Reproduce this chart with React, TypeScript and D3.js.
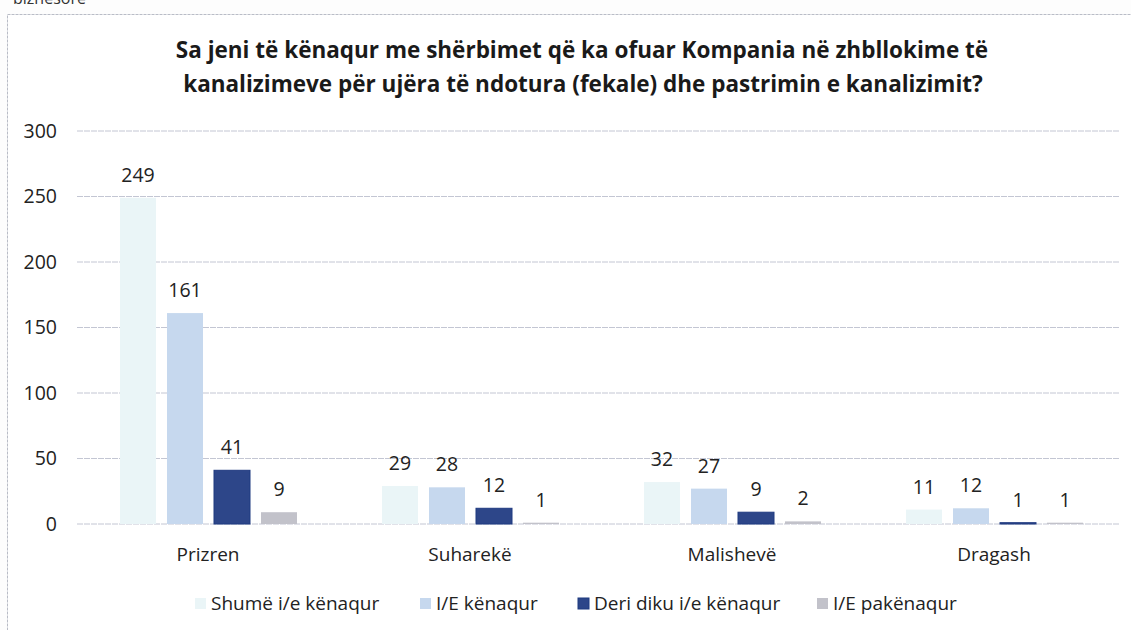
import * as d3 from 'd3';

const categories = ['Prizren', 'Suharekë', 'Malishevë', 'Dragash'];
const seriesNames = ['Shumë i/e kënaqur', 'I/E kënaqur', 'Deri diku i/e kënaqur', 'I/E pakënaqur'];
const shume = [249, 29, 32, 11];
const kenaqur = [161, 28, 27, 12];
const deriDiku = [41, 12, 9, 1];
const pakenaqur = [9, 1, 2, 1];
const yTicks = [0, 50, 100, 150, 200, 250, 300];

const seriesValues = [shume, kenaqur, deriDiku, pakenaqur];
const COLORS = ['#eaf5f7', '#c6d8ee', '#2d4689', '#c2c2ca'];

const WIDTH = 1131;
const HEIGHT = 630;
const PLOT = { left: 77, right: 1125, top: 131, bottom: 524 };
const FONT = "'Open Sans', 'Noto Sans', sans-serif";

export default function App() {
  const x0 = d3.scaleBand<string>().domain(categories).range([PLOT.left, PLOT.right]).padding(0);
  // bars inside a group: width 36, step 47
  const x1 = d3
    .scaleBand<string>()
    .domain(seriesNames)
    .range([43, 43 + 47 * 3 + 36])
    .paddingInner(11 / 47)
    .paddingOuter(0);
  const y = d3.scaleLinear().domain([0, 300]).range([PLOT.bottom, PLOT.top]);

  const legendX = [195, 420, 578, 817];

  return (
    <svg
      width={WIDTH}
      height={HEIGHT}
      style={{ position: 'absolute', left: 0, top: 0, background: '#fdfdfd' }}
    >
      <rect x={0} y={0} width={WIDTH} height={HEIGHT} fill="#fdfdfd" />
      {/* cropped page text above the chart */}
      <text x={13} y={4} fontFamily={FONT} fontSize={16} fill="#333">biznesore</text>

      {/* chart frame */}
      <rect
        x={7.5}
        y={14.5}
        width={1200}
        height={700}
        fill="#ffffff"
        stroke="#b9bcc6"
        strokeWidth={1}
        strokeDasharray="3 1"
      />

      {/* Title */}
      <text x={582} y={58} textAnchor="middle" fontFamily={FONT} fontWeight={700} fontSize={22.5} fill="#1a1a1a">
        Sa jeni të kënaqur me shërbimet që ka ofuar Kompania në zhbllokime të
      </text>
      <text x={583} y={92} textAnchor="middle" fontFamily={FONT} fontWeight={700} fontSize={22.5} fill="#1a1a1a">
        kanalizimeve për ujëra të ndotura (fekale) dhe pastrimin e kanalizimit?
      </text>

      {/* Gridlines + y labels */}
      {yTicks.map((t) => (
        <g key={t}>
          <line
            x1={PLOT.left}
            x2={PLOT.right - 5}
            y1={y(t)}
            y2={y(t)}
            stroke="#c3c6d3"
            strokeWidth={1}
            strokeDasharray="6 1"
          />
          <text
            x={57}
            y={y(t)}
            dy="0.35em"
            textAnchor="end"
            fontFamily={FONT}
            fontSize={19.5}
            fill="#222"
          >
            {t}
          </text>
        </g>
      ))}

      {/* Bars */}
      {categories.map((c, ci) => (
        <g key={c} transform={`translate(${x0(c)},0)`}>
          {seriesNames.map((s, si) => {
            const v = seriesValues[si][ci];
            const bx = x1(s) ?? 0;
            const bw = x1.bandwidth();
            return (
              <g key={s}>
                <rect
                  x={bx}
                  y={y(v)}
                  width={bw}
                  height={y(0) - y(v)}
                  fill={COLORS[si]}
                  stroke={si === 2 ? '#1f3a80' : 'none'}
                  strokeWidth={1}
                />
                <text
                  x={bx + bw / 2}
                  y={y(v) - 16}
                  textAnchor="middle"
                  fontFamily={FONT}
                  fontSize={19.5}
                  fill="#222"
                >
                  {v}
                </text>
              </g>
            );
          })}
          <text
            x={x0.bandwidth() / 2}
            y={561}
            textAnchor="middle"
            fontFamily={FONT}
            fontSize={19}
            fill="#222"
          >
            {c}
          </text>
        </g>
      ))}

      {/* Legend */}
      {seriesNames.map((s, i) => (
        <g key={s} transform={`translate(${legendX[i]},0)`}>
          <rect x={0} y={598} width={11} height={11} fill={COLORS[i]} stroke={i === 2 ? '#1f3a80' : 'none'} />
          <text x={16} y={610} fontFamily={FONT} fontSize={19} fill="#222">
            {s}
          </text>
        </g>
      ))}
    </svg>
  );
}
